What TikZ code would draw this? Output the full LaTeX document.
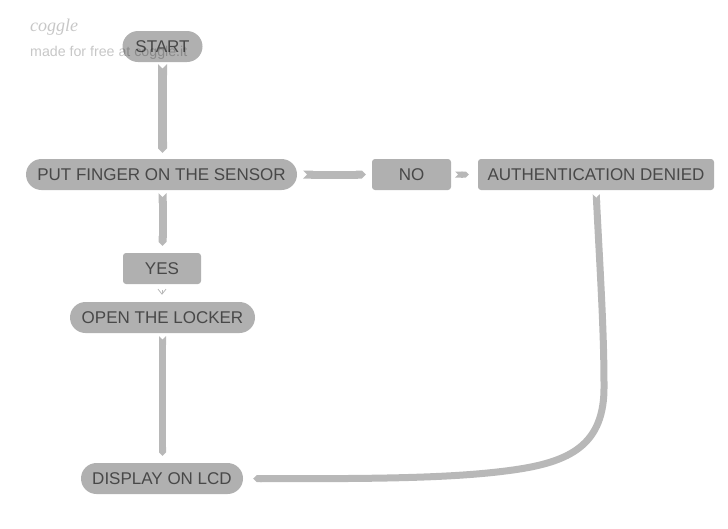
\documentclass[tikz,border=0pt]{standalone}
\usepackage{fontspec}
\setmainfont{Liberation Sans}
\newfontfamily\logofont{Liberation Serif}
\usetikzlibrary{arrows.meta}
\definecolor{boxgray}{HTML}{B0B0B0}
\definecolor{linkgray}{HTML}{B8B8B8}
\definecolor{textgray}{HTML}{484848}
\tikzset{
    pill/.style={fill=boxgray,rounded corners=15.5pt,inner sep=0pt,minimum height=31pt,text=textgray,font=\fontsize{17}{19}\selectfont},
    box/.style={fill=boxgray,rounded corners=3pt,inner sep=0pt,minimum height=31pt,text=textgray,font=\fontsize{17}{19}\selectfont},
    link/.style={draw=linkgray,line width=#1,{Triangle Cap[reversed]}-{Triangle Cap}},
    link/.default=8pt
}
\begin{document}
\begin{tikzpicture}[x=1pt,y=-1pt]
    \useasboundingbox (0,0) rectangle (728,528);
    \node[pill,minimum width=80pt] (START) at (162.5,46.5) {START};
    \node[pill,minimum width=271pt] (PUT) at (161.5,174.5) {PUT FINGER ON THE SENSOR};
    \node[box,minimum width=79pt] (NO) at (411.5,174.5) {NO};
    \node[box,minimum width=236pt] (DENIED) at (596,174.5) {AUTHENTICATION DENIED};
    \node[box,minimum width=78pt] (YES) at (162,268.5) {YES};
    \node[pill,minimum width=185pt] (OPEN) at (162.5,317.5) {OPEN THE LOCKER};
    \node[pill,minimum width=162pt] (LCD) at (162,478.5) {DISPLAY ON LCD};

    \coordinate (BEND) at (604,385);
    \coordinate (FOOT) at (513,470);

    \draw[link=9pt,shorten <=2pt,shorten >=6pt] (START) -- (START |- PUT.north);
    \draw[link,shorten <=6pt,shorten >=6pt] (PUT) -- (NO);
    \draw[link,shorten <=3pt,shorten >=7pt] (START |- PUT.south) -- (START |- YES.north);
    \draw[link=6pt,shorten <=4pt,shorten >=9pt] (NO) -- (DENIED);
    \draw[link=7pt,shorten <=3pt,shorten >=7pt] (OPEN.south) -- (OPEN.south |- LCD.north);
    \draw[link=7pt,shorten <=4pt,shorten >=10pt] (DENIED.south) .. controls (600,270) and (604,330) .. (BEND) .. controls (605,445) and (570,462) .. (FOOT) .. controls (456,478) and (380,479) .. (LCD.east);
    \draw[draw=linkgray,line width=.8pt,shorten <=6pt,shorten >=7pt,-{Straight Barb[length=5pt,width=8pt]}] (YES.south) -- (YES.south |- OPEN.north);

    % logo is laid over the start box
    \node[anchor=west,inner sep=0pt,font=\logofont\itshape\fontsize{18}{20}\selectfont,text=black,opacity=.22] (LOGO) at (30,27) {coggle};
    \node[anchor=west,inner sep=0pt,font=\fontsize{14.2}{16}\selectfont,text=black,opacity=.22] (MADE) at (30,53) {made for free at coggle.it};
\end{tikzpicture}
\end{document}
